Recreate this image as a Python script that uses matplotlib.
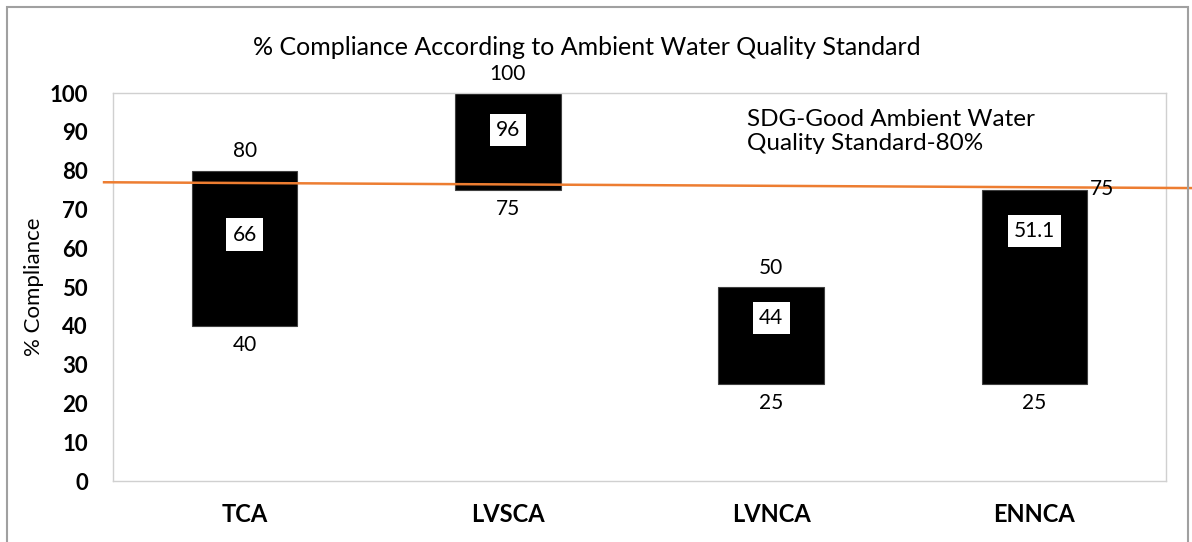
import matplotlib.pyplot as plt
from matplotlib.patches import Rectangle

plt.rcParams['font.family'] = ['Lato', 'DejaVu Sans']

# data
regions = ['TCA', 'LVSCA', 'LVNCA', 'ENNCA']
low = [40, 75, 25, 25]
high = [80, 100, 50, 75]
mean = ['66', '96', '44', '51.1']
mean_pos = [63.5, 90.5, 42, 64.5]      # where the mean boxes sit
standard_ends = [77.0, 75.5]           # drawn standard line, left/right ends

fig = plt.figure(figsize=(11.92, 5.42), dpi=100)
ax = fig.add_axes([0.0948, 0.1125, 0.8834, 0.7159])

x = list(range(len(regions)))
heights = [h - l for l, h in zip(low, high)]
ax.bar(x, heights, bottom=low, width=0.4, color='black', edgecolor='#404040', linewidth=0.8, zorder=2)

for i in x:
    if i == 3:
        # Excel put this one off to the right of the bar
        ax.annotate(str(high[i]), (i + 0.2, high[i]), xytext=(2, 1), textcoords='offset points',
                    ha='left', va='center', fontsize=15, zorder=4)
    else:
        ax.annotate(str(high[i]), (i, high[i]), xytext=(0, 14), textcoords='offset points',
                    ha='center', va='center', fontsize=15)
    ax.annotate(str(low[i]), (i, low[i]), xytext=(0, -14), textcoords='offset points',
                ha='center', va='center', fontsize=15)
    ax.text(i, mean_pos[i], mean[i], ha='center', va='center', fontsize=15, zorder=5,
            bbox=dict(boxstyle='square,pad=0.3', fc='white', ec='none'))

ax.set_xlim(-0.5, 3.5)
ax.set_ylim(0, 100)
ax.set_yticks(range(0, 101, 10))
ax.set_xticks(x)
ax.set_xticklabels(regions, fontsize=17, fontweight='bold')
ax.tick_params(axis='y', labelsize=16, length=0, pad=18)
ax.tick_params(axis='x', length=0, pad=16)
for lbl in ax.get_yticklabels():
    lbl.set_fontweight('bold')
for s in ax.spines.values():
    s.set_color('#d0d0d0')
    s.set_linewidth(1)
ax.set_ylabel('% Compliance', fontsize=16, labelpad=4)

# orange standard line, runs past the plot area
ax.plot([-0.534, 3.6], standard_ends, color='#ED7D31', lw=1.8, clip_on=False, zorder=3)

ax.text(0.602, 0.96, 'SDG-Good Ambient Water\nQuality Standard-80%', transform=ax.transAxes,
        ha='left', va='top', fontsize=17.5, linespacing=1.2)

fig.text(0.4925, 0.912, '% Compliance According to Ambient Water Quality Standard',
         ha='center', va='center', fontsize=18)

# outer chart border
fig.patches.append(Rectangle((0.006, -0.05), 0.991, 1.037, transform=fig.transFigure,
                             fill=False, ec='#a0a0a0', lw=1.5))

fig.savefig('out.png', dpi=100)
